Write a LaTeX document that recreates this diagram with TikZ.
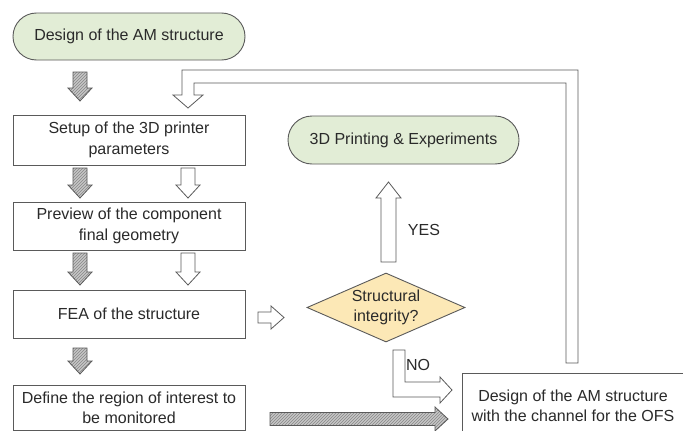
\documentclass[tikz,border=0pt]{standalone}
\usepackage{fontspec}
\setmainfont{Liberation Sans}
\usetikzlibrary{shapes.geometric,shapes.misc,patterns}
\definecolor{edge}{HTML}{5A5A5A}
\definecolor{txt}{HTML}{2A2A2A}
\definecolor{termfill}{HTML}{E2EDD6}
\definecolor{decfill}{HTML}{FCE8B6}
\definecolor{hatchfill}{HTML}{C6C6C6}
\definecolor{hatchline}{HTML}{878787}
\newcommand\dnarr[4]{% cx, ytop, ybot, style
  \draw[#4] ({#1-7},#2) -- ({#1+7},#2) -- ({#1+7},{#3-13}) -- ({#1+12},{#3-13})
   -- (#1,#3) -- ({#1-12},{#3-13}) -- ({#1-7},{#3-13}) -- cycle;}
\begin{document}
\begin{tikzpicture}[x=1pt,y=-1pt,
  every node/.style={text=txt,font=\fontsize{16}{20.5}\selectfont},
  term/.style={rounded rectangle,draw=edge,line width=0.9pt,fill=termfill,
    minimum width=232pt,minimum height=47pt,inner sep=0pt},
  stepbox/.style={rectangle,draw=edge,line width=0.9pt,fill=white,
    minimum width=232pt,inner sep=0pt,align=center},
  decision/.style={diamond,draw=edge,line width=0.9pt,fill=decfill,aspect=2.25,
    minimum width=158pt,minimum height=69pt,inner sep=0pt,align=center},
  hollow/.style={draw=edge,line width=0.8pt,fill=white},
  hatched/.style={draw=edge,line width=0.8pt,preaction={fill=hatchfill},
    pattern=north east lines,pattern color=hatchline},
  lbl/.style={font=\fontsize{16}{20}\selectfont}]
\useasboundingbox (0,0) rectangle (683,431);
\clip (0,0) rectangle (683,431);
\fill[white] (0,0) rectangle (683,431);

% nodes
\node[term] (start) at (129,36.5) {Design of the AM structure};
\node[stepbox,minimum height=50pt] (setup) at (129,140) {Setup of the 3D printer\\parameters};
\node[stepbox,minimum height=48pt] (preview) at (129,226) {Preview of the component\\final geometry};
\node[stepbox,minimum height=48pt] (fea) at (129,314) {FEA of the structure};
\node[stepbox,minimum height=45pt,text depth=0pt] (define) at (129,407.5) {Define the region of interest to\\be monitored};
\node[decision] (dec) at (386,307.5) {Structural\\integrity?};
\node[term,minimum width=231pt,minimum height=48pt] (print) at (403.5,140) {3D Printing \& Experiments};
\node[stepbox,minimum width=230pt,minimum height=68pt,anchor=north west] (ofs) at (462,373) {};
\node[align=center,anchor=center] (ofstxt) at (573,406) {Design of the AM structure\\with the channel for the OFS};

% left column arrows
\dnarr{80}{72}{101}{hatched}
\dnarr{80}{168}{198}{hatched}
\dnarr{80}{253}{285}{hatched}
\dnarr{80}{348}{374}{hatched}
\dnarr{188}{168}{198}{hollow}
\dnarr{188}{253}{285}{hollow}

% feedback arrow
\draw[hollow] (578,363) -- (578,70) -- (182,70) -- (182,95) -- (173,95) -- (188,108)
  -- (203,95) -- (194,95) -- (194,83) -- (566,83) -- (566,363) -- cycle;

% FEA -> decision
\draw[hollow] (258,312) -- (271,312) -- (271,306) -- (284,317.5) -- (271,329) -- (271,323) -- (258,323) -- cycle;

% YES arrow
\draw[hollow] (381,262) -- (381,198) -- (376,198) -- (388.5,182) -- (401,198) -- (396,198) -- (396,262) -- cycle;
\node[lbl] (yes) at (424,230) {YES};

% NO arrow
\draw[hollow] (393,350) -- (393,397) -- (440,397) -- (440,403) -- (452,390) -- (440,377)
  -- (440,382) -- (405,382) -- (405,350) -- cycle;
\node[lbl] (no) at (418,365) {NO};

% hatched right arrow
\draw[hatched] (270,412.5) -- (435,412.5) -- (435,407) -- (448,419) -- (435,431) -- (435,425.5) -- (270,425.5) -- cycle;
\end{tikzpicture}
\end{document}
